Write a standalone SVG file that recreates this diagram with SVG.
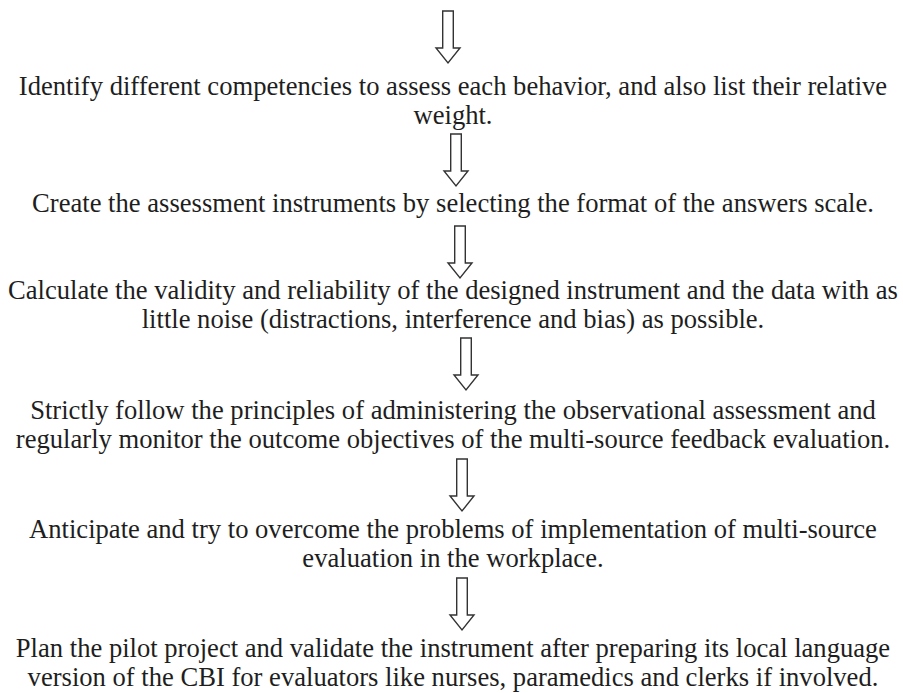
<svg xmlns="http://www.w3.org/2000/svg" xmlns:xlink="http://www.w3.org/1999/xlink" width="903" height="693" viewBox="0 0 903 693">
<style>
  .t { font-family: "Liberation Serif", "Times New Roman", serif; font-size: 26.6px; fill: #1e1e1e; text-anchor: middle; }
  .arr { fill: #ffffff; stroke: #333333; stroke-width: 1.4; stroke-linejoin: miter; }
</style>
<defs>
  <path id="downArrow" class="arr" d="M-5.3,0 H5.3 V37 H12 L0,52 L-12,37 H-5.3 Z"/>
</defs>
<rect width="903" height="693" fill="#ffffff"/>
<g id="connectors">
  <use xlink:href="#downArrow" href="#downArrow" transform="translate(448,11)"/>
  <use xlink:href="#downArrow" href="#downArrow" transform="translate(456,134)"/>
  <use xlink:href="#downArrow" href="#downArrow" transform="translate(460,226)"/>
  <use xlink:href="#downArrow" href="#downArrow" transform="translate(466,338)"/>
  <use xlink:href="#downArrow" href="#downArrow" transform="translate(462,459)"/>
  <use xlink:href="#downArrow" href="#downArrow" transform="translate(462,578)"/>
</g>
<g id="step1">
  <text class="t" x="453" y="95">Identify different competencies to assess each behavior, and also list their relative</text>
  <text class="t" x="453" y="123.5">weight.</text>
</g>
<g id="step2">
  <text class="t" x="453" y="211.7">Create the assessment instruments by selecting the format of the answers scale.</text>
</g>
<g id="step3">
  <text class="t" x="453" y="299.3">Calculate the validity and reliability of the designed instrument and the data with as</text>
  <text class="t" x="453" y="327.8">little noise (distractions, interference and bias) as possible.</text>
</g>
<g id="step4">
  <text class="t" x="453" y="419.3">Strictly follow the principles of administering the observational assessment and</text>
  <text class="t" x="453" y="447.8">regularly monitor the outcome objectives of the multi-source feedback evaluation.</text>
</g>
<g id="step5">
  <text class="t" x="453" y="538">Anticipate and try to overcome the problems of implementation of multi-source</text>
  <text class="t" x="453" y="566.5">evaluation in the workplace.</text>
</g>
<g id="step6">
  <text class="t" x="453" y="657">Plan the pilot project and validate the instrument after preparing its local language</text>
  <text class="t" x="453" y="685.5">version of the CBI for evaluators like nurses, paramedics and clerks if involved.</text>
</g>
</svg>
